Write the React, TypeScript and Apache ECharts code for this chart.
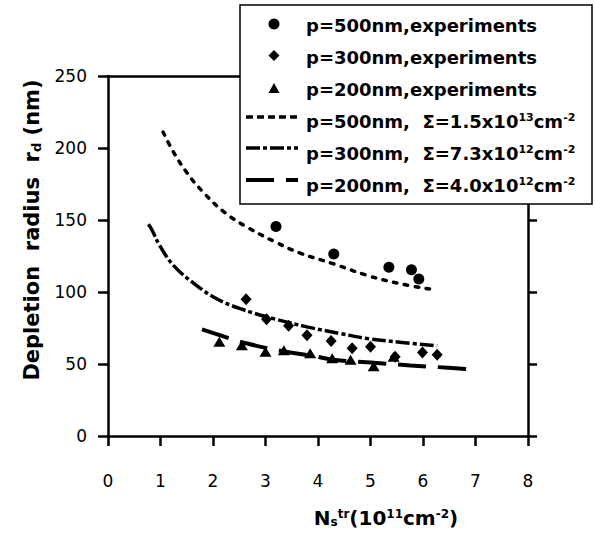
import React, { useEffect, useRef } from "react";
import * as echarts from "echarts";

// ---- data ----
const xTicks = [0, 1, 2, 3, 4, 5, 6, 7, 8];
const yTicks = [0, 50, 100, 150, 200, 250];

const exp500X = [3.2, 4.3, 5.35, 5.78, 5.92];
const exp500Y = [145.5, 126.4, 117.2, 115.5, 109.1];

const exp300X = [2.63, 3.02, 3.44, 3.79, 4.25, 4.65, 5.0, 5.47, 5.99, 6.27];
const exp300Y = [95, 81, 76.5, 70, 66, 61, 62, 55, 58, 56.5];

const exp200X = [2.12, 2.55, 3.0, 3.35, 3.85, 4.27, 4.62, 5.06, 5.44];
const exp200Y = [65.5, 63, 58.5, 59.5, 57.5, 54, 53, 48.5, 55];

const fit500X = [1.05, 1.25, 1.5, 1.82, 2.23, 2.65, 3.2, 3.66, 4.3, 4.94, 5.57, 6.18];
const fit500Y = [211, 197, 183, 169, 155, 145, 134.5, 127, 119.5, 111.5, 105.7, 101.7];

const fit300X = [0.77, 0.83, 0.99, 1.25, 1.69, 2.07, 2.52, 3.15, 3.79, 4.43, 4.94, 5.6, 6.27];
const fit300Y = [147, 143.6, 132, 118.3, 104.5, 95.3, 88.4, 81.5, 75.8, 71.1, 67.7, 65, 62.6];

const fit200X = [1.79, 2.3, 2.65, 3.31, 3.92, 4.3, 5.0, 5.76, 6.21, 7.04];
const fit200Y = [74, 68, 64.2, 59, 55.5, 53, 51, 49, 48, 46];

const legendLabels = [
  "p=500nm,experiments",
  "p=300nm,experiments",
  "p=200nm,experiments",
  "p=500nm,  Σ=1.5x10{sup|13}cm{sup|-2}",
  "p=300nm,  Σ=7.3x10{sup|12}cm{sup|-2}",
  "p=200nm,  Σ=4.0x10{sup|12}cm{sup|-2}",
];

const yTitle = "Depletion  radius  r{sub|d} (nm)";
const xTitle = "N{sub|s}{sup|tr}(10{sup|11}cm{sup|-2})";

const zip = (xs: number[], ys: number[]) => xs.map((x, i) => [x, ys[i]]);

const FONT = '"DejaVu Sans", sans-serif';
const TICKFONT = '"DejaVu Sans", sans-serif';

const dash500 = [3.5, 7.5];
const dash500Legend = [7, 4];
const dash300 = [14, 3, 4, 3];
const dash200 = [28, 12];

export default function App() {
  const ref = useRef<HTMLDivElement>(null);
  useEffect(() => {
    if (!ref.current) return;
    document.body.style.margin = "0";
    const chart = echarts.init(ref.current, null, { renderer: "svg" });

    const rich = (size: number) => ({
      sup: { fontFamily: FONT, fontWeight: "bold", fontSize: Math.round(size * 0.62), verticalAlign: "top", fill: "#000" },
      sub: { fontFamily: FONT, fontWeight: "bold", fontSize: Math.round(size * 0.62), verticalAlign: "bottom", fill: "#000" },
    });

    const rowY = [25, 57, 89, 121, 153, 185];
    const legendText = legendLabels.map((t, i) => ({
      type: "text",
      z: 102,
      x: 306,
      y: rowY[i],
      style: {
        text: t,
        fontFamily: FONT,
        fontWeight: "bold",
        fontSize: 18,
        fill: "#000",
        verticalAlign: "middle",
        align: "left",
        rich: rich(18),
      },
    }));

    const option: any = {
      animation: false,
      backgroundColor: "#fff",
      grid: { left: 108, right: 67, top: 76, bottom: 100, containLabel: false },
      xAxis: [
        {
          type: "value",
          min: xTicks[0],
          max: xTicks[xTicks.length - 1],
          interval: 1,
          position: "bottom",
          axisLine: { show: true, onZero: false, lineStyle: { color: "#000", width: 2.5 } },
          axisTick: { show: true, inside: false, length: 10, lineStyle: { color: "#000", width: 2.5 } },
          axisLabel: { show: true, margin: 36, color: "#000", fontFamily: TICKFONT, fontSize: 17 },
          splitLine: { show: false },
        },
        {
          type: "value",
          min: 0,
          max: 8,
          interval: 1,
          position: "top",
          axisLine: { show: true, onZero: false, lineStyle: { color: "#000", width: 2.5 } },
          axisTick: { show: false },
          axisLabel: { show: false },
          splitLine: { show: false },
        },
      ],
      yAxis: [
        {
          type: "value",
          min: yTicks[0],
          max: yTicks[yTicks.length - 1],
          interval: 50,
          position: "left",
          axisLine: { show: true, onZero: false, lineStyle: { color: "#000", width: 2.5 } },
          axisTick: { show: true, inside: false, length: 10, lineStyle: { color: "#000", width: 2.5 } },
          axisLabel: { show: true, margin: 21, color: "#000", fontFamily: TICKFONT, fontSize: 17 },
          splitLine: { show: false },
        },
        {
          type: "value",
          min: 0,
          max: 250,
          interval: 50,
          position: "right",
          axisLine: { show: true, onZero: false, lineStyle: { color: "#000", width: 2.5 } },
          axisTick: { show: true, inside: false, length: 9, lineStyle: { color: "#000", width: 2.5 } },
          axisLabel: { show: false },
          splitLine: { show: false },
        },
      ],
      series: [
        {
          name: "fit500",
          type: "line",
          data: zip(fit500X, fit500Y),
          smooth: 0.4,
          showSymbol: false,
          lineStyle: { color: "#000", width: 3.5, type: dash500, cap: "round" },
        },
        {
          name: "fit300",
          type: "line",
          data: zip(fit300X, fit300Y),
          smooth: 0.4,
          showSymbol: false,
          lineStyle: { color: "#000", width: 3.5, type: dash300 },
        },
        {
          name: "fit200",
          type: "line",
          data: zip(fit200X, fit200Y),
          smooth: 0.4,
          showSymbol: false,
          lineStyle: { color: "#000", width: 4, type: dash200 },
        },
        {
          name: "exp500",
          type: "scatter",
          data: zip(exp500X, exp500Y),
          symbol: "circle",
          symbolSize: 11,
          itemStyle: { color: "#000", opacity: 1 },
        },
        {
          name: "exp300",
          type: "scatter",
          data: zip(exp300X, exp300Y),
          symbol: "diamond",
          symbolSize: [11, 12],
          itemStyle: { color: "#000", opacity: 1 },
        },
        {
          name: "exp200",
          type: "scatter",
          data: zip(exp200X, exp200Y),
          symbol: "triangle",
          symbolSize: [12, 10],
          itemStyle: { color: "#000", opacity: 1 },
        },
      ],
      graphic: [
        {
          type: "rect",
          z: 100,
          shape: { x: 240, y: 5, width: 352, height: 199 },
          style: { fill: "#fff", stroke: "#000", lineWidth: 1.5 },
        },
        { type: "circle", z: 101, shape: { cx: 274, cy: 24, r: 5.5 }, style: { fill: "#000" } },
        {
          type: "polygon",
          z: 101,
          shape: { points: [[274, 50], [279.5, 55.5], [274, 61], [268.5, 55.5]] },
          style: { fill: "#000" },
        },
        {
          type: "polygon",
          z: 101,
          shape: { points: [[274, 83], [279.5, 93], [268.5, 93]] },
          style: { fill: "#000" },
        },
        {
          type: "line",
          z: 101,
          shape: { x1: 246, y1: 117, x2: 298, y2: 117 },
          style: { stroke: "#000", lineWidth: 3.5, lineDash: dash500Legend },
        },
        {
          type: "line",
          z: 101,
          shape: { x1: 246, y1: 148, x2: 298, y2: 148 },
          style: { stroke: "#000", lineWidth: 3.5, lineDash: dash300 },
        },
        {
          type: "line",
          z: 101,
          shape: { x1: 246, y1: 180, x2: 298, y2: 180 },
          style: { stroke: "#000", lineWidth: 4, lineDash: dash200 },
        },
        ...legendText,
        {
          type: "text",
          z: 102,
          x: 32,
          y: 230,
          rotation: Math.PI / 2,
          style: {
            text: yTitle,
            fontFamily: FONT,
            fontWeight: "bold",
            fontSize: 21,
            fill: "#000",
            align: "center",
            verticalAlign: "middle",
            rich: rich(21),
          },
        },
        {
          type: "text",
          z: 102,
          x: 386,
          y: 518,
          style: {
            text: xTitle,
            fontFamily: FONT,
            fontWeight: "bold",
            fontSize: 20,
            fill: "#000",
            align: "center",
            verticalAlign: "middle",
            rich: rich(20),
          },
        },
      ],
    };
    chart.setOption(option);
    return () => chart.dispose();
  }, []);
  return <div ref={ref} style={{ position: "absolute", left: 0, top: 0, width: 595, height: 536 }} />;
}
